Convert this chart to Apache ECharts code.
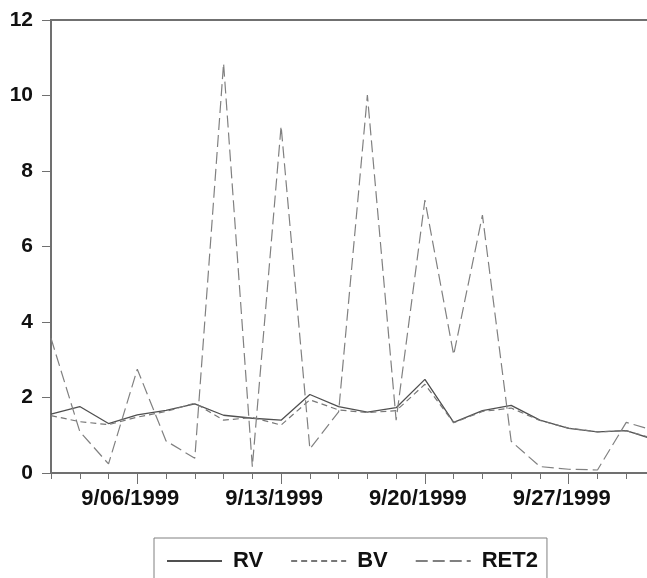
<!DOCTYPE html>
<html>
<head>
    <meta charset="utf-8">
    <script src="https://cdn.jsdelivr.net/npm/echarts@6/dist/echarts.min.js"></script>
    <style>
    html, body { margin: 0; padding: 0; background: #fff; }
    #main1 { width: 647px; height: 578px; }
    </style>
</head>
<body>
    <div id="main1"></div>
    <script type="text/javascript">
        // business days, September 1999
        var days = ['9/01/1999','9/02/1999','9/03/1999','9/06/1999','9/07/1999','9/08/1999','9/09/1999','9/10/1999',
                    '9/13/1999','9/14/1999','9/15/1999','9/16/1999','9/17/1999','9/20/1999','9/21/1999','9/22/1999',
                    '9/23/1999','9/24/1999','9/27/1999','9/28/1999','9/29/1999','9/30/1999'];
        var labelDays = ['9/06/1999','9/13/1999','9/20/1999','9/27/1999'];

        var rv   = [1.56,1.76,1.31,1.54,1.66,1.83,1.53,1.45,1.40,2.08,1.76,1.61,1.73,2.48,1.34,1.65,1.79,1.40,1.18,1.09,1.12,0.88];
        var bv   = [1.52,1.36,1.28,1.48,1.63,1.85,1.40,1.47,1.27,1.94,1.67,1.60,1.65,2.35,1.33,1.63,1.72,1.39,1.19,1.09,1.12,0.90];
        var ret2 = [3.57,1.10,0.24,2.75,0.85,0.39,10.85,0.17,9.19,0.64,1.62,10.01,1.40,7.23,3.13,6.83,0.84,0.17,0.10,0.08,1.34,1.12];

        var font = 'Liberation Sans, Arial, sans-serif';
        var myChart = echarts.init(document.getElementById('main1'));

        var option = {
            animation: false,
            backgroundColor: '#fff',
            grid: {
                left: 51, top: 20, right: -8, bottom: 105,
                outerBoundsMode: 'none',
                show: true,
                borderColor: '#707070',
                borderWidth: 2
            },
            legend: {
                data: ['RV', 'BV', 'RET2'],
                left: 154, top: 538,
                itemWidth: 55, itemHeight: 14, itemGap: 27,
                padding: [12, 9, 40, 12],
                borderColor: '#808080', borderWidth: 1,
                itemStyle: { opacity: 0 },
                textStyle: { fontFamily: font, fontSize: 22, fontWeight: 'bold', color: '#111', padding: [0, 0, 0, 6] }
            },
            xAxis: [
                {
                    type: 'category', data: days, boundaryGap: false,
                    axisLine: { lineStyle: { color: '#707070', width: 2 } },
                    axisTick: { interval: 0, length: 6, lineStyle: { color: '#707070' } },
                    axisLabel: { show: false }
                },
                {
                    type: 'category', data: days, boundaryGap: false, position: 'bottom',
                    axisLine: { show: false },
                    axisTick: {
                        length: 11, lineStyle: { color: '#707070' },
                        interval: function (i, v) { return labelDays.indexOf(v) >= 0; }
                    },
                    axisLabel: {
                        interval: function (i, v) { return labelDays.indexOf(v) >= 0; },
                        margin: 15, padding: [0, 14, 0, 0],
                        fontFamily: font, fontSize: 22, fontWeight: 'bold', color: '#111'
                    }
                }
            ],
            yAxis: {
                type: 'value', min: 0, max: 12, interval: 2,
                axisLine: { show: true, lineStyle: { color: '#707070', width: 2 } },
                axisTick: { show: true, length: 9, lineStyle: { color: '#707070' } },
                splitLine: { show: false },
                axisLabel: { margin: 18, fontFamily: font, fontSize: 21, fontWeight: 'bold', color: '#111' }
            },
            series: [
                {
                    name: 'RV', type: 'line', data: rv, symbol: 'none',
                    itemStyle: { color: '#505050' },
                    lineStyle: { color: '#505050', width: 1.3 }
                },
                {
                    name: 'BV', type: 'line', data: bv, symbol: 'none',
                    itemStyle: { color: '#777' },
                    lineStyle: { color: '#777', width: 1.2, type: [6, 4] }
                },
                {
                    name: 'RET2', type: 'line', data: ret2, symbol: 'none',
                    itemStyle: { color: '#808080' },
                    lineStyle: { color: '#808080', width: 1.2, type: [12, 5] }
                }
            ]
        };

        myChart.setOption(option);
    </script>
</body>
</html>
